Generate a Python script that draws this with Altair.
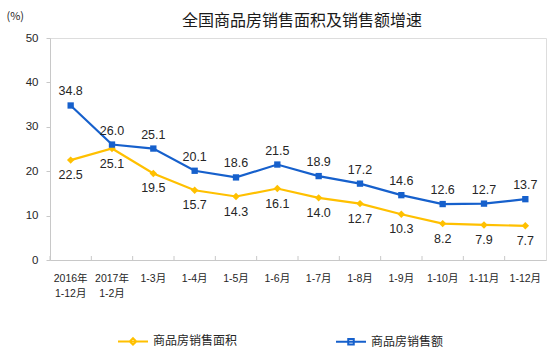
import altair as alt
import pandas as pd

categories = ["2016年|1-12月", "2017年|1-2月", "1-3月", "1-4月", "1-5月", "1-6月",
              "1-7月", "1-8月", "1-9月", "1-10月", "1-11月", "1-12月"]
area_growth = [22.5, 25.1, 19.5, 15.7, 14.3, 16.1, 14.0, 12.7, 10.3, 8.2, 7.9, 7.7]
sales_growth = [34.8, 26.0, 25.1, 20.1, 18.6, 21.5, 18.9, 17.2, 14.6, 12.6, 12.7, 13.7]
series_names = ["商品房销售面积", "商品房销售额"]
y_ticks = [0, 10, 20, 30, 40, 50]

YELLOW = "#FFC000"
BLUE = "#1660CC"
TXT = "#262626"
FONT = "Liberation Sans, Noto Sans CJK SC, sans-serif"
CJK = "Noto Sans CJK SC, sans-serif"

df = pd.DataFrame({
    "cat": categories * 2,
    "series": [series_names[0]] * len(categories) + [series_names[1]] * len(categories),
    "value": area_growth + sales_growth,
})

x_scale = alt.Scale(type="band", domain=categories, paddingInner=0, paddingOuter=0)
y_scale = alt.Scale(domain=[0, 50])

x_enc = alt.X(
    "cat:N", sort=categories, scale=x_scale, title=None,
    axis=alt.Axis(
        labelExpr="split(datum.label, '|')", labelAngle=0, labelFontSize=10.5,
        labelFont=FONT, labelColor=TXT, labelLineHeight=15, labelPadding=13,
        ticks=False, domainColor="#C8C8C8", grid=False, labelAlign="center",
        labelBaseline="top",
    ),
)
y_enc = alt.Y(
    "value:Q", scale=y_scale, title="(%)",
    axis=alt.Axis(
        values=y_ticks, grid=False, tickSize=4, tickColor="#C8C8C8",
        domainColor="#C8C8C8", labelFontSize=11.5, labelFont=FONT, labelColor=TXT,
        labelPadding=8, titleAngle=0, titleAlign="left", titleBaseline="middle",
        titleX=-44, titleY=-22, titleFontSize=11, titleFont=CJK,
        titleFontWeight="normal", titleColor=TXT,
    ),
)

base = alt.Chart(df)

area_only = base.transform_filter(alt.datum.series == series_names[0])
sales_only = base.transform_filter(alt.datum.series == series_names[1])

lines_area = area_only.mark_line(strokeWidth=2.2, color=YELLOW).encode(x=x_enc, y=y_enc)
pts_area = area_only.mark_point(
    filled=True, shape="diamond", size=55, color=YELLOW, opacity=1
).encode(x=x_enc, y=y_enc)

lines_sales = sales_only.mark_line(strokeWidth=2.2, color=BLUE).encode(x=x_enc, y=y_enc)
pts_sales = sales_only.mark_point(
    filled=True, shape="square", size=40, color=BLUE, opacity=1
).encode(x=x_enc, y=y_enc)

txt_area = area_only.mark_text(
    dy=15, fontSize=12.5, font=FONT, color=TXT
).encode(x=x_enc, y=y_enc, text=alt.Text("value:Q", format=".1f"))

txt_sales = sales_only.mark_text(
    dy=-14, fontSize=12.5, font=FONT, color=TXT
).encode(x=x_enc, y=y_enc, text=alt.Text("value:Q", format=".1f"))

ticks = area_only.mark_rule(color="#C8C8C8", strokeWidth=1).encode(
    x=alt.X("cat:N", sort=categories, scale=x_scale, bandPosition=0, title=None),
    y=alt.value(222), y2=alt.value(218),
)

diamond_path = "M-3,0H3M0,-0.65L0.65,0L0,0.65L-0.65,0Z"
square_path = "M-3,0H3M-0.55,-0.55H0.55V0.55H-0.55Z"

legend_layer = base.mark_point(filled=True, strokeWidth=2).encode(
    x=x_enc, y=y_enc,
    fill=alt.Fill("series:N", scale=alt.Scale(domain=series_names, range=[YELLOW, BLUE]),
                  legend=alt.Legend(
                      title=None, orient="none", legendX=77, legendY=297,
                      direction="horizontal", symbolSize=100, symbolStrokeWidth=2,
                      labelOffset=14, columnPadding=94, labelFontSize=12,
                      labelFont=CJK, labelColor=TXT, padding=0, symbolOpacity=1,
                  )),
    stroke=alt.Stroke("series:N", scale=alt.Scale(domain=series_names, range=[YELLOW, BLUE])),
    shape=alt.Shape("series:N", scale=alt.Scale(domain=series_names, range=[diamond_path, square_path])),
    opacity=alt.value(0),
)

chart = alt.layer(
    legend_layer, ticks, lines_area, pts_area, lines_sales, pts_sales, txt_area, txt_sales
).properties(
    width=496, height=222,
    autosize=alt.AutoSizeParams(type="none"),
    padding={"left": 50, "top": 38, "right": 4, "bottom": 94},
    title=alt.TitleParams(
        text="全国商品房销售面积及销售额增速", fontSize=16, font=CJK,
        fontWeight="normal", color="#1a1a1a", anchor="middle", frame="group",
        offset=-19, dx=4,
    ),
).configure_view(
    stroke="#D9D9D9", strokeWidth=1
).configure(background="white")

chart.save("out.html", embed_options={"renderer": "svg", "actions": False})
